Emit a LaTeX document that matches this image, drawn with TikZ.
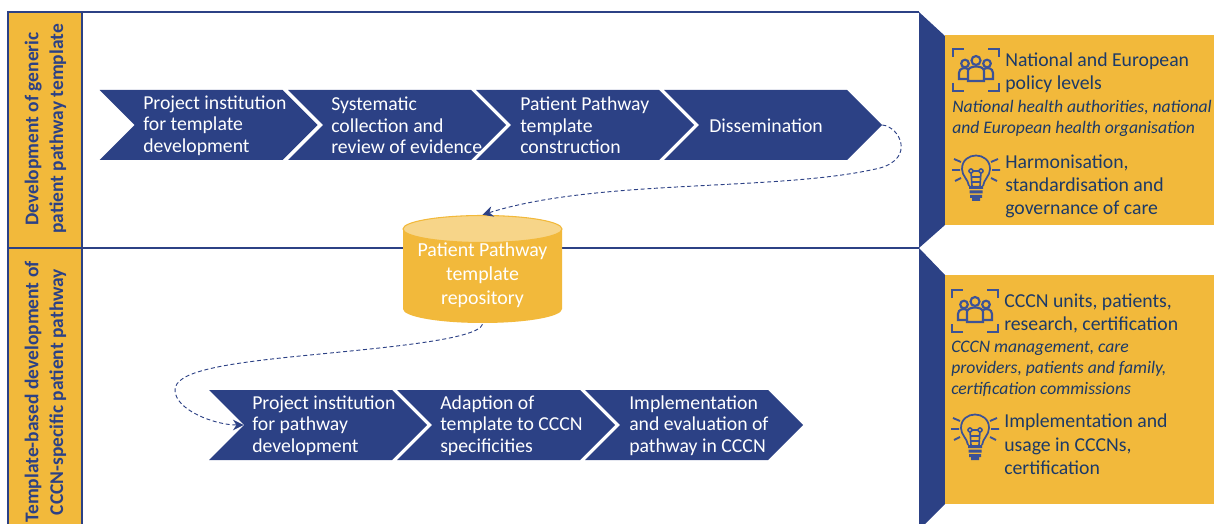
\documentclass[tikz,border=0pt]{standalone}
\usepackage{fontspec}
\setmainfont{Carlito}
\usetikzlibrary{shapes.symbols,arrows.meta}
\definecolor{navy}{HTML}{2C4185}
\definecolor{iconblue}{HTML}{3C5296}
\definecolor{inkblue}{HTML}{1C3A68}
\definecolor{gold}{HTML}{F2B93B}
\definecolor{paleGold}{HTML}{F7D589}
\tikzset{
	chevron/.style={signal,signal from=west,signal to=east,signal pointer angle=90,fill=navy,inner sep=0pt,minimum width=163.5pt,minimum height=52.5pt},
	steptext/.style={anchor=west,align=left,text=white,inner sep=0pt,font=\fontsize{14.8}{16.2}\selectfont},
	sidetext/.style={anchor=west,align=left,text=inkblue,inner sep=0pt,font=\fontsize{14.8}{17.5}\selectfont},
	sidenote/.style={anchor=west,align=left,text=inkblue,inner sep=0pt,font=\fontsize{13.2}{15.7}\selectfont\itshape},
	bandtext/.style={rotate=90,align=center,text=navy,inner sep=0pt,font=\fontsize{14.6}{18.5}\selectfont\bfseries},
	link/.style={draw=navy,densely dashed,line width=0.7pt,-{Stealth[length=8pt,width=8pt]}},
	people/.pic={
		\draw [iconblue,line width=1.7pt] (-23,-13) -- (-23,-21) -- (-12,-21) (12,-21) -- (23,-21) -- (23,-13) (-23,13) -- (-23,21) -- (-12,21) (12,21) -- (23,21) -- (23,13);
		\draw [iconblue,line width=1.6pt] (-8,11) -- (-8,1) .. controls (-8,-5) and (8,-5) .. (8,1) -- (8,11) -- cycle;
		\draw [iconblue,line width=1.6pt] (0,-9.5) circle (4.5);
		\draw [iconblue,line width=1.6pt] (-8,9) -- (-17,9) -- (-17,3) .. controls (-17,-2) and (-11,-3) .. (-8,-1);
		\draw [iconblue,line width=1.6pt] (8,9) -- (17,9) -- (17,3) .. controls (17,-2) and (11,-3) .. (8,-1);
		\draw [iconblue,line width=1.6pt] (-11,-6.5) circle (3.8);
		\draw [iconblue,line width=1.6pt] (11,-6.5) circle (3.8);
	},
	bulb/.pic={
		\draw [iconblue,line width=1.3pt] (-7,8) .. controls (-8,1) and (-14,-2) .. (-14,-9) .. controls (-14,-27) and (14,-27) .. (14,-9) .. controls (14,-2) and (8,1) .. (7,8);
		\draw [iconblue,line width=1.2pt] (-4,8) -- (-5,-6) (4,8) -- (5,-6) (-4.5,-1) -- (4.5,-1) (-4,4) -- (4,4);
		\draw [iconblue,line width=1.2pt] (-5,-7) circle (2) (5,-7) circle (2) (-3,-7) -- (3,-7);
		\fill [iconblue] (-7,8) rectangle (7,11) (-6.5,12.5) rectangle (6.5,15.5) (-6,17) rectangle (6,20) (-4,20) rectangle (4,23);
		\draw [iconblue,line width=1.4pt] (-22,-19) -- (-15,-16) (-24,-8) -- (-16,-8) (-21,3) -- (-15,0) (22,-19) -- (15,-16) (24,-8) -- (16,-8) (21,3) -- (15,0);
	}
}
\begin{document}
\begin{tikzpicture}[x=0.75pt,y=-0.75pt]
	\useasboundingbox (0,0) rectangle (1214,524);
	\clip (0,0) rectangle (1214,524);
	% bands
	\fill [gold] (8,12) rectangle (82,524);
	\draw [navy,line width=0.8pt] (919,12) -- (8,12) -- (8,524) (82,12) -- (82,524) (8,248) -- (919,248);
	\node [bandtext] (bandA) at (45.5,129) {Development of generic\\patient pathway template};
	\node [bandtext] (bandB) at (45.5,392) {Template-based development of\\CCCN-specific patient pathway};
	% right panels
	\fill [navy] (919,12) -- (945,36) -- (945,225) -- (919,248) -- cycle;
	\fill [navy] (919,248) -- (945,275) -- (945,504) -- (919,530) -- cycle;
	\fill [gold] (945,35) rectangle (1214,225);
	\fill [gold] (945,275) rectangle (1214,504);
	% upper row
	\node [chevron] (instA) at (208.5,125) {};
	\node [chevron] (review) at (397,125) {};
	\node [chevron] (build) at (585,125) {};
	\node [chevron] (dissem) at (773,125) {};
	\node [steptext] (instAtext) at (143,125.5) {Project institution\\for template\\development};
	\node [steptext] (reviewtext) at (331,125.5) {Systematic\\collection and\\review of evidence};
	\node [steptext] (buildtext) at (520,125.5) {Patient Pathway\\template\\construction};
	\node [steptext] (dissemtext) at (709,126) {Dissemination};
	% lower row
	\node [chevron] (instB) at (318,425) {};
	\node [chevron] (adapt) at (506,425) {};
	\node [chevron] (impl) at (694,425) {};
	\node [steptext] (instBtext) at (252,425.5) {Project institution\\for pathway\\development};
	\node [steptext] (adapttext) at (440,425.5) {Adaption of\\template to CCCN\\specificities};
	\node [steptext] (impltext) at (629,425.5) {Implementation\\and evaluation of\\pathway in CCCN};
	% repository
	\fill [gold] (403,229) -- (403,309) arc [start angle=180,end angle=0,x radius=79.5,y radius=14] -- (562,229) -- cycle;
	\fill [paleGold,draw=gold,line width=0.8pt] (482.5,229) ellipse [x radius=79.5,y radius=13.5];
	\node [align=center,text=white,inner sep=0pt,minimum height=72.75pt,font=\fontsize{14.9}{18}\selectfont] (repo) at (482.5,275.5) {Patient Pathway\\template\\repository};
	% links
	\draw [link] (dissem.east) .. controls (900,127) and (915,158) .. (880,168) .. controls (780,192) and (600,178) .. ([yshift=9pt]repo.north);
	\draw [link] (repo.south) .. controls (478,340) and (380,348) .. (300,356) .. controls (220,364) and (175,372) .. (175,390) .. controls (175,410) and (215,425) .. (instB.west);
	% side content
	\pic at (976,70) {people};
	\node [sidetext] (policy) at (1005,73) {National and European\\policy levels};
	\node [sidenote] (policynote) at (952,118) {National health authorities, national\\and European health organisation};
	\pic at (976,178) {bulb};
	\node [sidetext] (harmon) at (1005,186.5) {Harmonisation,\\standardisation and\\governance of care};
	\pic at (975,311) {people};
	\node [sidetext] (units) at (1004,313.5) {CCCN units, patients,\\research, certification};
	\node [sidenote] (unitsnote) at (951,369) {CCCN management, care\\providers, patients and family,\\certification commissions};
	\pic at (975,437) {bulb};
	\node [sidetext] (usage) at (1004,444.5) {Implementation and\\usage in CCCNs,\\certification};
\end{tikzpicture}
\end{document}
